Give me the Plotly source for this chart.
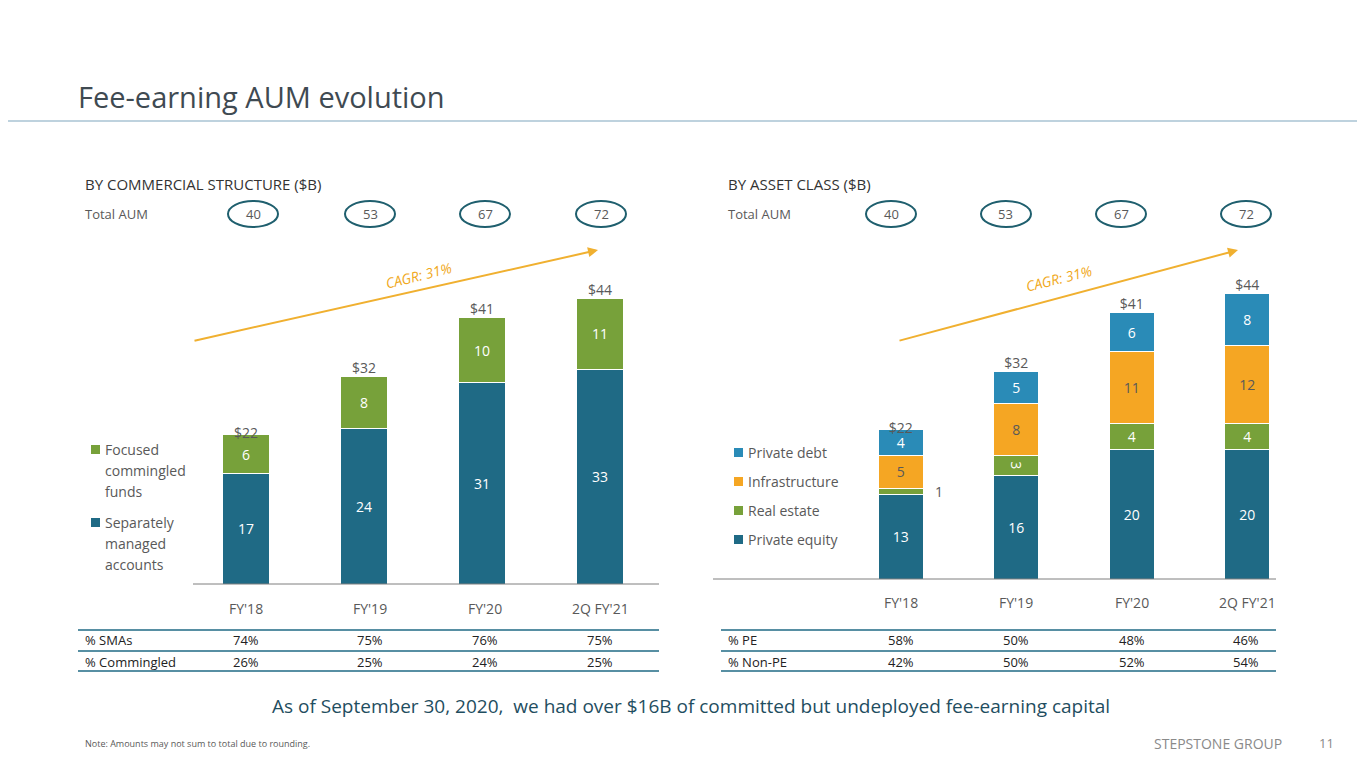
import plotly.graph_objects as go

W, H = 1365, 768
cats = ["FY'18", "FY'19", "FY'20", "2Q FY'21"]
total_aum = [40, 53, 67, 72]
sma = [17, 24, 31, 33]
commingled = [6, 8, 10, 11]
totals_txt = ["$22", "$32", "$41", "$44"]
totals_val = [22, 32, 41, 44]
pe = [13, 16, 20, 20]
re = [1, 3, 4, 4]
infra = [5, 8, 11, 12]
pdebt = [4, 5, 6, 8]
pct_sma = ["74%", "75%", "76%", "75%"]
pct_comm = ["26%", "25%", "24%", "25%"]
pct_pe = ["58%", "50%", "48%", "46%"]
pct_nonpe = ["42%", "50%", "52%", "54%"]

TEAL = "#1f6a85"; GREEN = "#77a13a"; ORANGE = "#f5a623"; BLUE = "#2a8bb7"
GRAY = "#595959"; FONT = "Open Sans"
px = lambda x: x / W
py = lambda y: 1 - y / H

fig = go.Figure()
def bar(name, vals, color, axis, tcolor="white", texts=None):
    fig.add_trace(go.Bar(x=cats, y=vals, marker=dict(color=color, line=dict(color="white", width=1)),
                         text=texts if texts is not None else [str(v) for v in vals],
                         textposition="inside", insidetextanchor="middle",
                         textfont=dict(color=tcolor, size=14, family=FONT), width=0.39,
                         xaxis=axis, yaxis=axis.replace("x", "y"), showlegend=False, name=name,
                         constraintext="none"))

bar("SMA", sma, TEAL, "x")
bar("Comm", commingled, GREEN, "x")
bar("PE", pe, TEAL, "x2")
bar("RE", re, GREEN, "x2", texts=[str(v) if v > 1 else "" for v in re])
bar("Infra", infra, ORANGE, "x2", tcolor="#595959")
bar("PD", pdebt, BLUE, "x2")
for ax in ["x", "x2"]:
    fig.add_trace(go.Scatter(x=cats, y=totals_val, mode="text", text=totals_txt, textposition="top center",
                             textfont=dict(size=14, color=GRAY, family=FONT), xaxis=ax,
                             yaxis=ax.replace("x", "y"), showlegend=False, cliponaxis=False))

fig.update_layout(barmode="stack", width=W, height=H, margin=dict(l=0, r=0, t=0, b=0),
                  plot_bgcolor="white", paper_bgcolor="white", font=dict(family=FONT, color=GRAY),
                  xaxis=dict(domain=[px(179), px(651)], anchor="y", showticklabels=False, showgrid=False),
                  yaxis=dict(domain=[py(576), py(251)], range=[0, 50], visible=False),
                  xaxis2=dict(domain=[px(835), px(1297)], anchor="y2", showticklabels=False, showgrid=False),
                  yaxis2=dict(domain=[py(571), py(246)], range=[0, 50], visible=False))

ann = []
def t(x, y, s, size=14, color=GRAY, anchor="left", **kw):
    ann.append(dict(x=px(x), y=py(y), xref="paper", yref="paper", text=s, showarrow=False,
                    xanchor=anchor, yanchor="middle", font=dict(size=size, color=color, family=FONT), **kw))
shapes = []
def line(x0, y0, x1, y1, color, w=1):
    shapes.append(dict(type="line", xref="paper", yref="paper", x0=px(x0), y0=py(y0), x1=px(x1), y1=py(y1),
                       line=dict(color=color, width=w)))

t(68, 89, "Fee-earning AUM evolution", size=29, color="#3f4a52")
line(0, 113, W, 113, "#a9c3d3", 1.5)
t(75, 176, "BY COMMERCIAL STRUCTURE ($B)", size=15, color="#333")
t(718, 176, "BY ASSET CLASS ($B)", size=15, color="#333")
t(75, 206, "Total AUM", size=13)
t(718, 206, "Total AUM", size=13)
for xs in ([245, 362, 477, 593], [883, 998, 1113, 1238]):
    for x, v in zip(xs, total_aum):
        shapes.append(dict(type="circle", xref="paper", yref="paper", x0=px(x - 25), x1=px(x + 25),
                           y0=py(219), y1=py(193), line=dict(color="#1f5f6e", width=2)))
        t(x, 206, str(v), size=13, anchor="center")

line(185, 576, 651, 576, "#7f7f7f")
line(705, 571, 1268, 571, "#7f7f7f")
for x, c in zip([238, 362, 477, 592], cats):
    t(x, 600, c, anchor="center")
for x, c in zip([893, 1008, 1124, 1239], cats):
    t(x, 594, c, anchor="center")
ann.append(dict(x="FY'18", y=13.5, xref="x2", yref="y2", xshift=38, text=str(re[0]), showarrow=False,
                font=dict(size=14, color=GRAY, family=FONT)))

for (x0, y0, x1, y1, tx, ty) in [(185, 333, 590, 242, 410, 268), (890, 333, 1230, 242, 1050, 270)]:
    ann.append(dict(x=px(x1), y=py(y1), ax=x0 - x1, ay=y0 - y1, xref="paper", yref="paper", axref="pixel",
                    ayref="pixel", showarrow=True, arrowhead=2, arrowsize=1, arrowwidth=2,
                    arrowcolor="#f0b030", text=""))
    t(tx, ty, "<i>CAGR: 31%</i>", size=14, color="#f0a820", anchor="center", textangle=-14)

def leg(x, y, color, lines):
    shapes.append(dict(type="rect", xref="paper", yref="paper", x0=px(x - 5), x1=px(x + 4), y0=py(y + 5),
                       y1=py(y - 4), fillcolor=color, line=dict(width=0)))
    for i, s in enumerate(lines):
        t(x + 7, y + 21 * i, s, size=14)
leg(88, 441, GREEN, ["Focused", "commingled", "funds"])
leg(88, 514, TEAL, ["Separately", "managed", "accounts"])
leg(731, 444, BLUE, ["Private debt"])
leg(731, 473, ORANGE, ["Infrastructure"])
leg(731, 502, GREEN, ["Real estate"])
leg(731, 531, TEAL, ["Private equity"])

for (x0, x1, xs, rows) in [(75, 651, [238, 362, 477, 592], [("% SMAs", pct_sma), ("% Commingled", pct_comm)]),
                           (718, 1268, [893, 1008, 1124, 1238], [("% PE", pct_pe), ("% Non-PE", pct_nonpe)])]:
    for yy in (622, 643, 663):
        line(x0 - 5, yy, x1, yy, "#1f6a85", 1.5)
    for r, (lab, vals) in enumerate(rows):
        y = 632 + 22 * r
        t(x0, y, lab, size=13, color="#222")
        for x, v in zip(xs, vals):
            t(x, y, v, size=13, color="#222", anchor="center")

t(683, 698, "As of September 30, 2020,  we had over $16B of committed but undeployed fee-earning capital",
  size=19, color="#1f4e5f", anchor="center")
t(75, 735, "Note: Amounts may not sum to total due to rounding.", size=9)
t(1276, 735, "STEPSTONE GROUP", size=14, color="#8a8a8a", anchor="right")
t(1318, 735, "11", size=13, color="#8a8a8a", anchor="center")

fig.update_layout(annotations=ann, shapes=shapes)
fig.write_html("out.html")
